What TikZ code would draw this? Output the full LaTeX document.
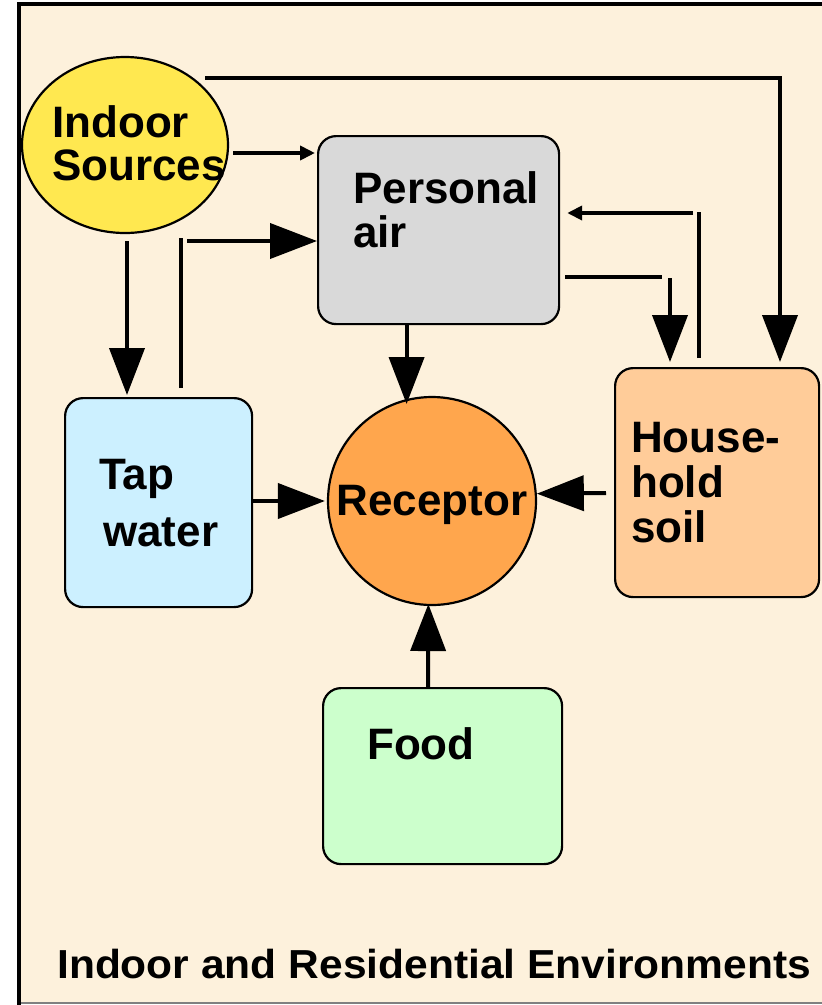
\documentclass[tikz,border=0pt]{standalone}
\usepackage{fontspec}
\setmainfont{Liberation Sans}
\usetikzlibrary{arrows.meta,shapes.geometric}
\definecolor{cream}{HTML}{FDF1DC}
\definecolor{srcyellow}{HTML}{FFE850}
\definecolor{airgray}{HTML}{D9D9D9}
\definecolor{waterblue}{HTML}{CCF0FF}
\definecolor{recorange}{HTML}{FFA64D}
\definecolor{soilpeach}{HTML}{FFCC99}
\definecolor{foodgreen}{HTML}{CCFFCC}
\begin{document}
\begin{tikzpicture}[x=1pt,y=-1pt,
  box/.style={draw, line width=2.2pt, rounded corners=18pt, anchor=north west, inner sep=0pt},
  lbl/.style={anchor=base west, inner sep=0pt, font=\bfseries\fontsize{44}{48}\selectfont},
  conn/.style={line width=4pt},
  big/.style={conn, -{Triangle[length=47pt,width=35pt]}},
  small/.style={conn, -{Triangle[length=15pt,width=14pt]}}]
\useasboundingbox (0,0) rectangle (822,1005);
% background and frame
\fill[cream] (18.7,3.7) rectangle (822,1003);
\draw[gray, line width=2pt] (17,1003) -- (822,1003);
\draw[line width=4pt] (18.7,1005) -- (18.7,3.7) -- (822,3.7);
% nodes
\node[draw, ellipse, fill=srcyellow, line width=2.2pt, minimum width=206pt, minimum height=176pt, inner sep=0pt] (is) at (125,145) {};
\node[box, fill=airgray, minimum width=241pt, minimum height=188pt] (pa) at (317,135) {};
\node[box, fill=waterblue, minimum width=187pt, minimum height=209pt] (tw) at (64,397) {};
\node[draw, circle, fill=recorange, line width=2.2pt, minimum size=208pt, inner sep=0pt] (rc) at (432,501) {};
\node[box, fill=soilpeach, minimum width=204pt, minimum height=229pt] (soil) at (614,367) {};
\node[box, fill=foodgreen, minimum width=239pt, minimum height=176pt] (food) at (322,687) {};
% labels
\node[lbl] (isA) at (52,137) {Indoor};
\node[lbl] (isB) at (52,180) {Sources};
\node[lbl] (paA) at (353,203) {Personal};
\node[lbl] (paB) at (353,247) {air};
\node[lbl] (twA) at (99,489) {Tap};
\node[lbl] (twB) at (103,546) {water};
\node[lbl, anchor=base] (rcA) at (432,515) {Receptor};
\node[lbl] (soilA) at (631,452) {House-};
\node[lbl] (soilB) at (631,497) {hold};
\node[lbl] (soilC) at (631,542) {soil};
\node[lbl] (foodA) at (367,759) {Food};
\node[anchor=base west, inner sep=0pt, font=\bfseries\fontsize{40.5}{44}\selectfont] (title) at (57,978) {\scalebox{1.05}[1]{Indoor and Residential Environments}};
% connector coordinates
\coordinate (a1) at (205,78);
\coordinate (k1) at (780,78);
\coordinate (a2) at (233,153);
\coordinate (a3) at (127,241);
\coordinate (a4) at (181,388);
\coordinate (a4b) at (181,238);
\coordinate (a4c) at (187,241);
\coordinate (a6) at (565,277);
\coordinate (a6b) at (662,277);
\coordinate (a6c) at (670,278);
\coordinate (a7) at (699,358);
\coordinate (a7b) at (699,212);
\coordinate (a7c) at (693,213);
\coordinate (a9) at (606,493);
\coordinate (a10) at (428,687);
% connectors
\draw[big, shorten >=5pt] (a1) -- (k1) -- (k1 |- soil.north);
\draw[small, shorten >=2pt] (a2) -- (pa.west |- a2);
\draw[big, shorten >=2pt] (a3) -- (a3 |- tw.north);
\draw[conn] (a4) -- (a4b);
\draw[big] (a4c) -- (pa.west |- a4c);
\draw[big, shorten >=-5pt] (pa.south -| rc.104) -- (rc.104);
\draw[conn] (a6) -- (a6b);
\draw[big, shorten >=5pt] (a6c) -- (a6c |- soil.north);
\draw[conn] (a7) -- (a7b);
\draw[small, shorten >=7pt] (a7c) -- (pa.east |- a7c);
\draw[big, shorten >=2pt] (rc.west -| tw.east) -- (rc.west);
\draw[big] (a9) -- (rc.4);
\draw[big, shorten >=-2pt] (a10) -- (rc.268);
\end{tikzpicture}
\end{document}
